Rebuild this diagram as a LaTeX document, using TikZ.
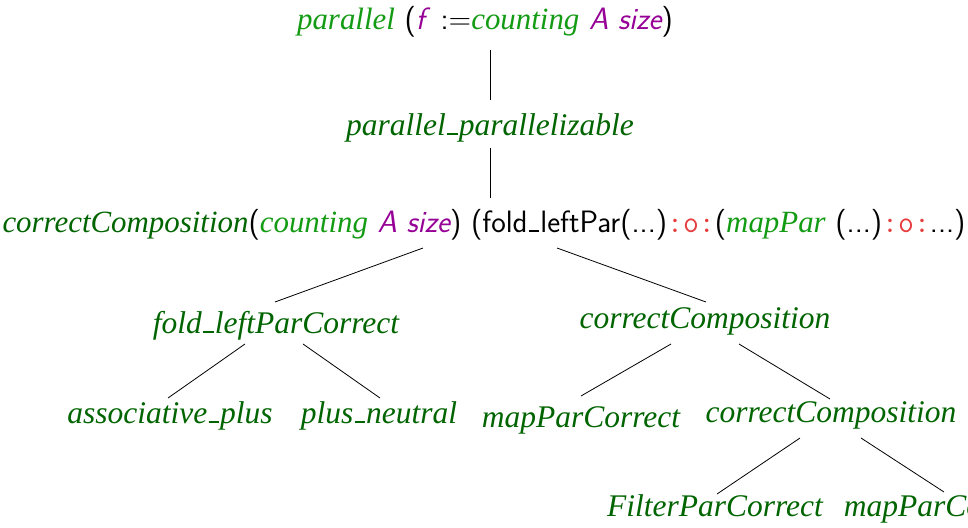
\documentclass[tikz,border=0pt]{standalone}
\usepackage{fontspec}
\newfontfamily\tms{Liberation Serif}
\definecolor{dkg}{RGB}{0,100,0}
\definecolor{ltg}{RGB}{20,155,20}
\definecolor{pur}{RGB}{150,0,150}
\definecolor{rd}{RGB}{230,60,60}
\newcommand{\dgtx}[1]{\textcolor{dkg}{\tms\itshape #1}}
\newcommand{\lgtx}[1]{\textcolor{ltg}{\tms\itshape #1}}
\newcommand{\putx}[1]{\textcolor{pur}{\sffamily\itshape #1}}
\newcommand{\ootx}{\textcolor{rd}{\ttfamily:o:}}
\newcommand{\usc}{\kern0.04em\rule[0.005em]{0.33em}{0.055em}\kern0.04em}
\begin{document}
\begin{tikzpicture}[x=1pt,y=-1pt,
  lbl/.style={inner sep=0pt,anchor=base,font=\fontsize{31.5}{36}\selectfont\sffamily},
  wide/.style={lbl,font=\fontsize{30.9}{36}\selectfont\sffamily},
  conn/.style={draw=black,line width=0.8pt}]
\useasboundingbox (0,0) rectangle (968,527);
\clip (0,0) rectangle (968,527);
\node[wide] (root) at (485,30) {\lgtx{parallel} (\putx{f}\kern0.2em\ :=\lgtx{counting} \putx{A size})};
\node[lbl] (pp) at (490,135) {\dgtx{parallel\usc parallelizable}};
\node[wide] (cc0) at (484,232) {\dgtx{correctComposition}(\lgtx{counting} \putx{A size}) (fold\usc leftPar(...)\ootx(\lgtx{mapPar} (...)\ootx...)};
\node[lbl] (flc) at (276,333) {\dgtx{fold\usc leftParCorrect}};
\node[lbl] (cc1) at (705,328) {\dgtx{correctComposition}};
\node[lbl] (ap) at (170,423) {\dgtx{associative\usc plus}};
\node[lbl] (pn) at (379,423) {\dgtx{plus\usc neutral}};
\node[lbl] (mpc1) at (581,427) {\dgtx{mapParCorrect}};
\node[lbl] (cc2) at (831,422) {\dgtx{correctComposition}};
\node[lbl] (fpc) at (715,516) {\dgtx{FilterParCorrect}};
\node[lbl] (mpc2) at (943,516) {\dgtx{mapParCorrect}};
% connector ends
\coordinate (r-s) at (490,50);   \coordinate (pp-n) at (490,100);
\coordinate (pp-s) at (490,148); \coordinate (cc0-n) at (490,198);
\coordinate (cc0-sw) at (423,248); \coordinate (flc-n) at (275,302);
\coordinate (cc0-se) at (557,248); \coordinate (cc1-n) at (706,302);
\coordinate (flc-sw) at (245,344); \coordinate (ap-n) at (168,398);
\coordinate (flc-se) at (303,344); \coordinate (pn-n) at (380,398);
\coordinate (cc1-sw) at (671,344); \coordinate (mpc1-n) at (581,396);
\coordinate (cc1-se) at (739,344); \coordinate (cc2-n) at (830,399);
\coordinate (cc2-sw) at (800,438); \coordinate (fpc-n) at (717,494);
\coordinate (cc2-se) at (861,438); \coordinate (mpc2-n) at (944,492);
\draw[conn] (r-s) -- (pp-n);
\draw[conn] (pp-s) -- (cc0-n);
\draw[conn] (cc0-sw) -- (flc-n);
\draw[conn] (cc0-se) -- (cc1-n);
\draw[conn] (flc-sw) -- (ap-n);
\draw[conn] (flc-se) -- (pn-n);
\draw[conn] (cc1-sw) -- (mpc1-n);
\draw[conn] (cc1-se) -- (cc2-n);
\draw[conn] (cc2-sw) -- (fpc-n);
\draw[conn] (cc2-se) -- (mpc2-n);
\end{tikzpicture}
\end{document}
